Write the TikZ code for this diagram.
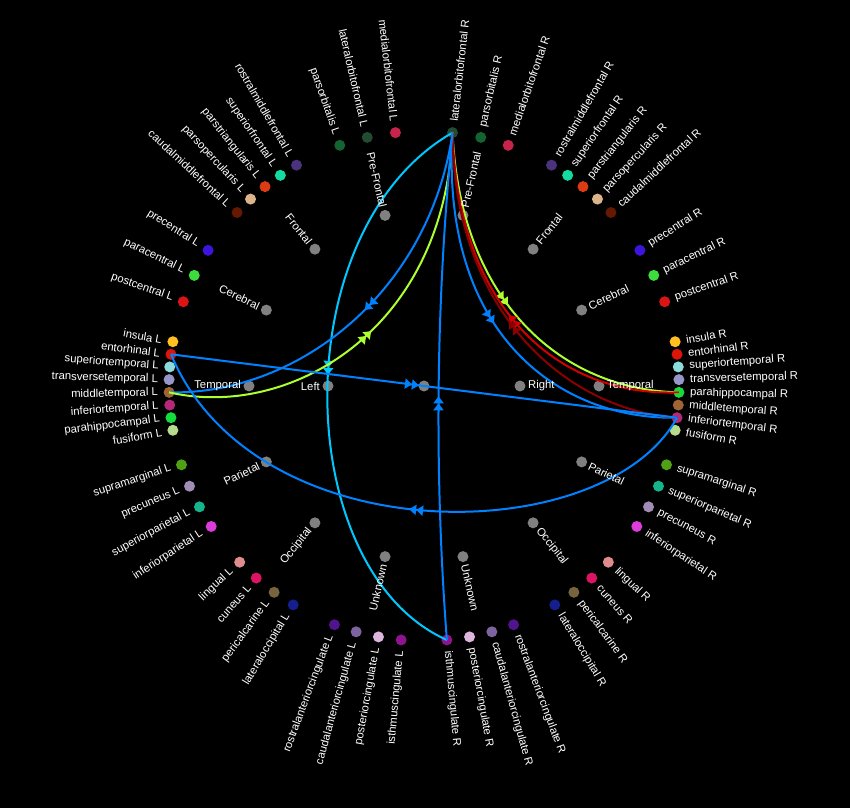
\documentclass[tikz,border=0pt]{standalone}
\usepackage{fontspec}
\setmainfont{Liberation Sans}
\usetikzlibrary{arrows.meta,decorations.markings}
\definecolor{cmof}{RGB}{200,35,75}
\definecolor{clof}{RGB}{35,75,50}
\definecolor{cpor}{RGB}{20,100,50}
\definecolor{crmf}{RGB}{75,50,125}
\definecolor{csf}{RGB}{20,220,160}
\definecolor{cptr}{RGB}{220,60,20}
\definecolor{cpop}{RGB}{220,180,140}
\definecolor{ccmf}{RGB}{100,25,0}
\definecolor{cprc}{RGB}{60,20,220}
\definecolor{cpac}{RGB}{60,220,60}
\definecolor{cpoc}{RGB}{220,20,20}
\definecolor{cins}{RGB}{255,192,32}
\definecolor{cent}{RGB}{220,20,10}
\definecolor{cst}{RGB}{140,220,220}
\definecolor{ctt}{RGB}{150,150,200}
\definecolor{cmt}{RGB}{160,100,50}
\definecolor{cit}{RGB}{180,40,120}
\definecolor{cph}{RGB}{20,220,60}
\definecolor{cfus}{RGB}{180,220,140}
\definecolor{csm}{RGB}{80,160,20}
\definecolor{cpcu}{RGB}{160,140,180}
\definecolor{csp}{RGB}{20,180,140}
\definecolor{cip}{RGB}{220,60,220}
\definecolor{cling}{RGB}{225,140,140}
\definecolor{ccun}{RGB}{220,20,100}
\definecolor{cperi}{RGB}{120,100,60}
\definecolor{clo}{RGB}{20,30,140}
\definecolor{crac}{RGB}{80,20,140}
\definecolor{ccac}{RGB}{125,100,160}
\definecolor{cpc}{RGB}{220,180,220}
\definecolor{cisth}{RGB}{140,20,140}
\definecolor{cgray}{RGB}{128,128,128}
\definecolor{ecyan}{RGB}{0,200,255}
\definecolor{eblue}{RGB}{0,130,255}
\definecolor{egy}{RGB}{173,255,47}
\definecolor{ered}{RGB}{210,0,0}
\definecolor{edred}{RGB}{139,0,0}
\tikzset{
  dot/.style={circle,inner sep=0pt,minimum size=11pt},
  lbl/.style={text=white,font=\fontsize{11.3}{13}\selectfont,inner sep=1pt},
  edge/.style={line width=2pt},
  midarrow/.style={postaction={decorate},decoration={markings,mark=at position #1 with {\arrow{Triangle[length=7pt,width=10pt] Triangle[length=7pt,width=10pt]}}}}
}
\begin{document}
\begin{tikzpicture}[x=1pt,y=1pt]
\fill[black] (0,0) rectangle (850,808);
\useasboundingbox (0,0) rectangle (850,808);
\begin{scope}[shift={(424,422)}]
\foreach \nm/\ang/\col in {mofL/96.43/cmof, lofL/102.86/clof, porL/109.29/cpor,
  rmfL/120.00/crmf, sfL/124.29/csf, ptrL/128.57/cptr, popL/132.86/cpop, cmfL/137.14/ccmf,
  prcL/147.86/cprc, pacL/154.29/cpac, pocL/160.71/cpoc,
  insL/170.00/cins, entL/172.86/cent, stL/175.71/cst, ttL/178.57/ctt, mtL/181.43/cmt, itL/184.29/cit, phL/187.14/cph, fusL/190.00/cfus,
  smL/198.00/csm, pcuL/203.14/cpcu, spL/208.29/csp, ipL/213.43/cip,
  lingL/223.71/cling, cunL/228.86/ccun, periL/234.00/cperi, loL/239.14/clo,
  racL/249.43/crac, cacL/254.57/ccac, pcL/259.71/cpc, isthL/264.86/cisth,
  lofR/83.57/clof, porR/77.14/cpor, mofR/70.71/cmof,
  rmfR/60.00/crmf, sfR/55.71/csf, ptrR/51.43/cptr, popR/47.14/cpop, cmfR/42.86/ccmf,
  prcR/32.14/cprc, pacR/25.71/cpac, pocR/19.29/cpoc,
  insR/10.00/cins, entR/7.14/cent, stR/4.29/cst, ttR/1.43/ctt, phR/-1.43/cph, mtR/-4.29/cmt, itR/-7.14/cit, fusR/-10.00/cfus,
  smR/-18.00/csm, spR/-23.14/csp, pcuR/-28.29/cpcu, ipR/-33.43/cip,
  lingR/-43.71/cling, cunR/-48.86/ccun, periR/-54.00/cperi, loR/-59.14/clo,
  racR/-69.43/crac, cacR/-74.57/ccac, pcR/-79.71/cpc, isthR/-84.86/cisth}
  {\node[dot,fill=\col] (\nm) at (\ang:255) {};}
\foreach \nm/\ang in {gPFL/102.86, gFL/128.57, gCL/154.29, gTL/180, gPL/205.71, gOL/231.43, gUL/257.14,
  gPFR/77.14, gFR/51.43, gCR/25.71, gTR/0, gPR/-25.71, gOR/-51.43, gUR/-77.14}
  {\node[dot,fill=cgray] (\nm) at (\ang:175) {};}
\node[dot,fill=cgray] (hL) at (180:96) {};
\node[dot,fill=cgray] (hR) at (0:96) {};
\node[dot,fill=cgray] (root) at (0,0) {};
\end{scope}
% connectors
\draw[edge,ecyan,midarrow=0.48] (lofR.center) .. controls (283,578) and (290,238) .. (isthR.center);
\draw[edge,eblue,midarrow=0.48] (lofR.center) .. controls (430,518) and (300,413) .. (mtL.center);
\draw[edge,egy,midarrow=0.5] (mtL.center) .. controls (290,388) and (445,478) .. (lofR.center);
\draw[edge,eblue,midarrow=0.48] (lofR.center) .. controls (440,473) and (560,388) .. (itR.center);
\draw[edge,egy,midarrow=0.48] (lofR.center) .. controls (460,508) and (560,418) .. (phR.center);
\draw[edge,ered,midarrow=0.5] (phR.center) .. controls (555,411) and (457,503) .. (lofR.center);
\draw[edge,edred,midarrow=0.5] (itR.center) .. controls (565,398) and (453,498) .. (lofR.center);
\draw[edge,eblue,midarrow=0.49] (entL.center) -- (itR.center);
\draw[edge,eblue,midarrow=0.5] (itR.center) .. controls (605,258) and (255,253) .. (entL.center);
\draw[edge,eblue,midarrow=0.48] (isthR.center) .. controls (434,338) and (436,508) .. (lofR.center);
% labels
\begin{scope}[shift={(424,422)}]
\foreach \nm/\ang/\txt in {mofL/96.43/medialorbitofrontal L, lofL/102.86/lateralorbitofrontal L, porL/109.29/parsorbitalis L,
  rmfL/120.00/rostralmiddlefrontal L, sfL/124.29/superiorfrontal L, ptrL/128.57/parstriangularis L, popL/132.86/parsopercularis L, cmfL/137.14/caudalmiddlefrontal L,
  prcL/147.86/precentral L, pacL/154.29/paracentral L, pocL/160.71/postcentral L,
  insL/170.00/insula L, entL/172.86/entorhinal L, stL/175.71/superiortemporal L, ttL/178.57/transversetemporal L, mtL/181.43/middletemporal L, itL/184.29/inferiortemporal L, phL/187.14/parahippocampal L, fusL/190.00/fusiform L,
  smL/198.00/supramarginal L, pcuL/203.14/precuneus L, spL/208.29/superiorparietal L, ipL/213.43/inferiorparietal L,
  lingL/223.71/lingual L, cunL/228.86/cuneus L, periL/234.00/pericalcarine L, loL/239.14/lateraloccipital L,
  racL/249.43/rostralanteriorcingulate L, cacL/254.57/caudalanteriorcingulate L, pcL/259.71/posteriorcingulate L, isthL/264.86/isthmuscingulate L}
  {\node[lbl,anchor=east,rotate=\ang-180] (\nm-t) at (\ang:265) {\txt};}
\foreach \nm/\ang/\txt in {lofR/83.57/lateralorbitofrontal R, porR/77.14/parsorbitalis R, mofR/70.71/medialorbitofrontal R,
  rmfR/60.00/rostralmiddlefrontal R, sfR/55.71/superiorfrontal R, ptrR/51.43/parstriangularis R, popR/47.14/parsopercularis R, cmfR/42.86/caudalmiddlefrontal R,
  prcR/32.14/precentral R, pacR/25.71/paracentral R, pocR/19.29/postcentral R,
  insR/10.00/insula R, entR/7.14/entorhinal R, stR/4.29/superiortemporal R, ttR/1.43/transversetemporal R, phR/-1.43/parahippocampal R, mtR/-4.29/middletemporal R, itR/-7.14/inferiortemporal R, fusR/-10.00/fusiform R,
  smR/-18.00/supramarginal R, spR/-23.14/superiorparietal R, pcuR/-28.29/precuneus R, ipR/-33.43/inferiorparietal R,
  lingR/-43.71/lingual R, cunR/-48.86/cuneus R, periR/-54.00/pericalcarine R, loR/-59.14/lateraloccipital R,
  racR/-69.43/rostralanteriorcingulate R, cacR/-74.57/caudalanteriorcingulate R, pcR/-79.71/posteriorcingulate R, isthR/-84.86/isthmuscingulate R}
  {\node[lbl,anchor=west,rotate=\ang] (\nm-t) at (\ang:265) {\txt};}
\foreach \nm/\ang/\txt in {gPFL/102.86/Pre-Frontal, gFL/128.57/Frontal, gCL/154.29/Cerebral, gTL/180/Temporal, gPL/205.71/Parietal, gOL/231.43/Occipital, gUL/257.14/Unknown}
  {\node[lbl,anchor=east,rotate=\ang-180] (\nm-t) at (\ang:182) {\txt};}
\foreach \nm/\ang/\txt in {gPFR/77.14/Pre-Frontal, gFR/51.43/Frontal, gCR/25.71/Cerebral, gTR/0/Temporal, gPR/-25.71/Parietal, gOR/-51.43/Occipital, gUR/-77.14/Unknown}
  {\node[lbl,anchor=west,rotate=\ang] (\nm-t) at (\ang:182) {\txt};}
\node[lbl,anchor=east] (hL-t) at (180:103) {Left};
\node[lbl,anchor=west] (hR-t) at (0:103) {Right};
\end{scope}
\end{tikzpicture}
\end{document}
